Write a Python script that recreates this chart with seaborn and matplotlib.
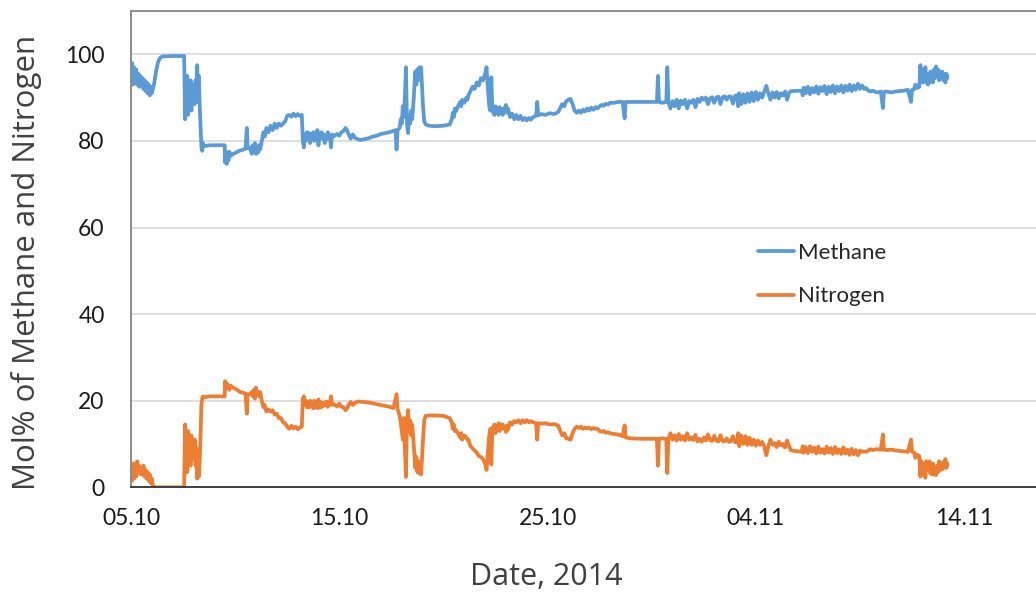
import numpy as np
import pandas as pd
import matplotlib
matplotlib.use("Agg")
import matplotlib.pyplot as plt
import matplotlib.dates as mdates
from matplotlib.lines import Line2D
import seaborn as sns

# Measurement time, days after 05.10.2014 00:00
day_offset = [
    0.00, 0.05, 0.10, 0.15, 0.20, 0.25, 0.30, 0.35, 0.40, 0.45, 0.50, 0.55, 0.60, 0.65, 0.70, 0.75,
    0.80, 0.85, 0.90, 0.95, 1.00, 1.05, 1.10, 1.15, 1.22, 1.30, 1.40, 1.50, 2.00, 2.55,
    2.60, 2.63, 2.66, 2.70, 2.74, 2.78, 2.82, 2.86, 2.90, 2.94, 2.98, 3.02, 3.06, 3.10, 3.14, 3.18,
    3.22, 3.26, 3.30, 3.34, 3.38, 3.42, 3.46, 3.50, 3.80, 4.20, 4.50, 4.52, 4.56, 4.60, 4.64, 4.68,
    4.72, 4.78, 4.90, 5.00, 5.10, 5.25, 5.40, 5.50, 5.56, 5.60, 5.70, 5.80, 5.85, 5.90, 5.95, 6.00,
    6.05, 6.10, 6.15, 6.20, 6.30, 6.36, 6.42, 6.50, 6.60, 6.70, 6.80, 6.90, 7.00, 7.10, 7.20, 7.30,
    7.40, 7.50, 7.60, 7.70, 7.80, 7.90, 8.00, 8.10, 8.20, 8.25, 8.30, 8.35, 8.40, 8.45, 8.50, 8.55,
    8.60, 8.65, 8.70, 8.75, 8.80, 8.85, 8.90, 8.95, 9.00, 9.05, 9.10, 9.15, 9.20, 9.25, 9.30, 9.35,
    9.40, 9.45, 9.50, 9.55, 9.60, 9.65, 9.70, 9.80, 9.90, 10.00, 10.10, 10.20, 10.30, 10.37, 10.45, 10.55,
    10.65, 10.75, 10.90, 11.00, 11.20, 11.40, 11.60, 11.80, 12.00, 12.20, 12.40, 12.60, 12.70, 12.75, 12.80, 12.90,
    12.95, 13.00, 13.05, 13.10, 13.15, 13.20, 13.25, 13.30, 13.35, 13.40, 13.45, 13.50, 13.55, 13.60, 13.65, 13.70,
    13.75, 13.80, 13.85, 13.90, 13.93, 13.98, 14.02, 14.08, 14.15, 14.30, 14.60, 15.00, 15.30, 15.40, 15.45, 15.50,
    15.55, 15.60, 15.70, 15.80, 15.85, 15.90, 16.00, 16.10, 16.15, 16.20, 16.30, 16.40, 16.50, 16.60, 16.70, 16.80,
    16.90, 17.00, 17.07, 17.12, 17.20, 17.25, 17.30, 17.35, 17.45, 17.50, 17.55, 17.60, 17.65, 17.70, 17.75, 17.80,
    17.85, 17.90, 17.95, 18.00, 18.05, 18.10, 18.20, 18.30, 18.40, 18.50, 18.60, 18.70, 18.80, 18.90, 19.00, 19.10,
    19.20, 19.30, 19.45, 19.50, 19.55, 19.70, 19.90, 20.10, 20.30, 20.50, 20.60, 20.70, 20.80, 20.90, 21.00, 21.10,
    21.20, 21.30, 21.40, 21.50, 21.60, 21.70, 21.80, 21.90, 22.00, 22.10, 22.20, 22.30, 22.40, 22.50, 22.60, 22.70,
    22.80, 22.90, 23.00, 23.20, 23.40, 23.60, 23.70, 23.75, 24.00, 24.50, 25.00, 25.25, 25.30, 25.35, 25.50, 25.70,
    25.75, 25.80, 25.90, 26.00, 26.10, 26.20, 26.30, 26.40, 26.50, 26.60, 26.70, 26.80, 26.90, 27.00, 27.10, 27.20,
    27.30, 27.40, 27.50, 27.60, 27.70, 27.80, 27.90, 28.00, 28.10, 28.20, 28.30, 28.40, 28.50, 28.60, 28.70, 28.80,
    28.90, 29.00, 29.10, 29.15, 29.20, 29.30, 29.40, 29.50, 29.60, 29.70, 29.80, 29.90, 30.00, 30.10, 30.20, 30.30,
    30.40, 30.50, 30.60, 30.70, 30.80, 30.90, 31.00, 31.10, 31.20, 31.30, 31.40, 31.50, 31.60, 31.70, 32.20, 32.25,
    32.30, 32.40, 32.50, 32.60, 32.70, 32.80, 32.90, 33.00, 33.10, 33.20, 33.30, 33.40, 33.50, 33.60, 33.70, 33.80,
    33.90, 34.00, 34.10, 34.20, 34.30, 34.40, 34.50, 34.60, 34.70, 34.80, 34.90, 35.00, 35.10, 35.20, 35.30, 35.40,
    35.50, 35.60, 35.80, 36.00, 36.10, 36.15, 36.30, 36.50, 36.70, 36.90, 37.10, 37.30, 37.45, 37.50, 37.60, 37.66,
    37.75, 37.85, 37.90, 37.94, 37.98, 38.02, 38.06, 38.10, 38.14, 38.18, 38.22, 38.26, 38.30, 38.34, 38.38, 38.42,
    38.46, 38.50, 38.55, 38.60, 38.65, 38.70, 38.75, 38.80, 38.85, 38.90, 38.95, 39.00, 39.05, 39.10, 39.15, 39.20,
]

# Mol% methane
methane = [
    95.0, 98.0, 93.0, 97.0, 94.0, 96.5, 93.0, 95.5, 92.5, 95.0, 93.0, 94.5, 92.0, 94.0, 91.5, 93.5,
    91.0, 93.0, 90.5, 92.5, 91.0, 92.0, 93.0, 94.5, 96.5, 98.2, 99.2, 99.5, 99.6, 99.6,
    85.0, 93.0, 88.0, 95.0, 86.0, 92.0, 89.0, 94.0, 87.0, 93.0, 89.0, 92.0, 88.5, 94.0, 90.0, 97.5,
    89.0, 95.0, 88.0, 83.0, 78.5, 77.7, 79.5, 78.8, 79.0, 79.0, 79.0, 75.0, 77.5, 74.7, 77.0, 75.5,
    77.5, 76.5, 77.0, 77.2, 77.5, 77.8, 78.0, 78.2, 83.0, 78.3, 78.5, 77.0, 79.0, 77.5, 79.5, 77.0,
    78.5, 77.3, 79.0, 78.0, 80.5, 82.0, 81.0, 83.0, 82.0, 83.5, 82.5, 84.0, 83.0, 84.0, 83.5, 84.0,
    84.5, 85.8, 86.0, 85.6, 86.3, 85.7, 86.2, 85.8, 86.0, 80.0, 78.5, 81.5, 80.0, 82.0, 80.5, 81.8,
    79.5, 81.5, 80.5, 82.0, 80.0, 81.5, 80.8, 82.5, 79.0, 81.7, 80.5, 82.0, 80.5, 81.5, 79.5, 81.2,
    80.4, 82.0, 80.8, 81.2, 78.5, 81.5, 81.0, 81.3, 81.6, 81.2, 82.0, 82.3, 83.0, 82.5, 81.5, 80.5,
    81.5, 80.7, 80.4, 80.2, 80.4, 80.6, 81.0, 81.2, 81.6, 81.8, 82.0, 82.3, 82.5, 78.0, 82.5, 83.0,
    85.0, 84.0, 88.0, 85.5, 90.0, 97.0, 84.0, 81.8, 86.0, 84.0, 87.0, 85.0, 88.0, 92.0, 96.0, 93.0,
    96.5, 94.0, 97.0, 95.0, 97.0, 92.0, 88.0, 84.5, 83.8, 83.5, 83.4, 83.5, 83.8, 85.0, 86.5, 85.5,
    87.5, 86.8, 88.0, 89.0, 88.0, 89.5, 88.8, 90.0, 89.5, 90.5, 91.5, 92.5, 92.0, 93.5, 92.8, 94.5,
    94.0, 95.5, 97.0, 93.0, 88.0, 87.0, 94.7, 87.0, 86.0, 88.0, 86.5, 87.5, 86.0, 87.8, 86.5, 87.0,
    86.0, 87.5, 87.0, 88.3, 86.5, 87.5, 85.5, 86.3, 85.0, 86.0, 85.0, 85.8, 84.8, 85.3, 84.7, 85.3,
    84.9, 85.5, 85.8, 89.0, 85.9, 86.2, 86.0, 86.4, 86.2, 86.6, 87.5, 88.5, 88.0, 89.2, 89.5, 89.7,
    88.5, 87.0, 86.5, 87.0, 86.5, 87.2, 86.8, 87.5, 87.0, 87.7, 87.2, 87.8, 87.5, 88.0, 88.3, 88.1,
    88.6, 88.4, 88.8, 88.8, 89.0, 89.0, 85.2, 89.0, 89.0, 89.0, 89.0, 89.0, 95.0, 89.0, 88.8, 89.0,
    97.0, 89.0, 87.5, 89.2, 88.0, 89.5, 87.5, 89.3, 88.5, 89.5, 87.5, 89.2, 88.8, 89.5, 87.8, 89.7,
    89.0, 90.0, 89.5, 90.0, 88.5, 89.8, 90.1, 88.8, 90.0, 90.2, 88.5, 90.1, 90.3, 89.5, 90.3, 90.2,
    88.6, 90.4, 90.5, 88.0, 91.0, 88.5, 90.8, 88.8, 91.0, 89.0, 91.2, 89.2, 91.3, 89.5, 91.0, 90.0,
    91.3, 92.7, 91.0, 89.5, 91.2, 90.0, 91.3, 89.8, 91.0, 90.5, 91.4, 89.5, 91.2, 91.5, 91.6, 90.5,
    92.3, 91.0, 92.5, 90.8, 92.2, 91.2, 92.6, 90.9, 92.4, 91.5, 92.7, 90.8, 92.5, 91.3, 92.8, 91.0,
    92.6, 91.5, 92.8, 91.2, 92.7, 91.6, 93.0, 91.5, 92.8, 91.8, 93.2, 92.0, 92.8, 92.0, 92.2, 91.6,
    91.4, 91.6, 91.2, 91.4, 87.6, 91.3, 91.4, 91.2, 91.4, 91.5, 91.6, 91.8, 89.0, 91.8, 92.0, 93.0,
    92.2, 92.5, 97.5, 94.0, 96.5, 93.5, 96.0, 94.5, 97.0, 93.5, 95.5, 93.0, 95.0, 93.5, 96.0, 94.0,
    95.5, 93.5, 96.5, 94.5, 97.2, 95.0, 96.5, 94.0, 96.0, 94.5, 96.0, 94.0, 95.5, 93.5, 95.5, 94.5,
]

# Mol% nitrogen
nitrogen = [
    4.0, 1.5, 5.5, 2.0, 4.5, 2.5, 6.0, 3.5, 5.0, 3.0, 4.5, 3.0, 5.0, 2.5, 4.0, 2.0,
    3.5, 1.5, 3.0, 1.0, 2.0, 0.5, 0.2, 0.0, 0.0, 0.0, 0.0, 0.0, 0.0, 0.0,
    14.5, 6.0, 11.0, 3.5, 13.0, 8.0, 10.0, 5.0, 12.0, 6.5, 10.5, 7.5, 11.0, 5.0, 9.0, 2.0,
    8.0, 2.5, 6.0, 12.0, 19.0, 20.5, 21.0, 20.8, 21.0, 21.0, 21.0, 24.5, 23.5, 24.0, 23.0, 23.5,
    22.5, 23.5, 23.0, 22.8, 22.5, 22.0, 21.8, 21.6, 17.0, 21.5, 21.5, 22.0, 21.0, 22.5, 20.5, 23.0,
    21.5, 22.0, 21.0, 22.0, 19.5, 18.5, 19.0, 17.5, 18.0, 17.5, 17.8, 16.8, 17.0, 16.0, 16.0, 15.0,
    14.8, 14.0, 13.5, 14.2, 13.6, 14.0, 13.4, 13.8, 14.0, 20.5, 21.0, 19.0, 20.0, 18.5, 19.8, 18.5,
    20.0, 18.8, 19.5, 18.2, 20.0, 18.6, 19.2, 18.3, 20.3, 18.4, 19.7, 18.5, 19.5, 18.8, 19.6, 19.0,
    19.8, 18.6, 19.5, 19.2, 21.0, 19.0, 19.3, 19.0, 18.7, 19.3, 18.6, 18.5, 17.8, 18.2, 19.0, 19.7,
    19.0, 19.5, 19.8, 19.8, 19.7, 19.6, 19.4, 19.2, 19.0, 18.8, 18.6, 18.3, 20.5, 21.5, 18.0, 16.5,
    15.0, 13.0, 11.0, 16.0, 9.0, 2.4, 15.0, 17.8, 13.0, 15.5, 12.0, 14.5, 11.5, 8.0, 4.5, 7.0,
    3.5, 6.0, 3.2, 4.5, 3.0, 7.5, 11.0, 15.5, 16.5, 16.6, 16.6, 16.5, 16.0, 15.0, 13.5, 14.5,
    13.0, 13.2, 12.5, 11.5, 12.5, 11.0, 12.0, 11.5, 11.0, 11.0, 9.5, 9.0, 8.5, 8.0, 7.2, 7.0,
    6.5, 5.5, 4.0, 7.0, 12.0, 13.5, 5.3, 13.5, 14.5, 12.5, 14.0, 13.5, 14.8, 13.0, 14.5, 13.8,
    14.5, 13.5, 14.0, 12.8, 14.3, 13.3, 15.0, 14.5, 15.3, 15.0, 15.5, 14.8, 15.5, 15.0, 15.5, 15.0,
    15.3, 15.0, 14.8, 11.0, 14.8, 14.7, 14.8, 14.5, 14.6, 14.3, 13.2, 12.0, 12.5, 11.3, 11.2, 11.0,
    12.5, 13.5, 14.0, 13.7, 14.0, 13.5, 13.8, 13.6, 13.8, 13.4, 13.7, 13.5, 13.5, 13.0, 12.8, 13.0,
    12.6, 12.7, 12.5, 12.3, 12.2, 11.8, 14.3, 11.5, 11.3, 11.2, 11.2, 11.2, 5.0, 11.2, 11.3, 11.2,
    3.3, 11.2, 12.5, 11.0, 12.0, 10.8, 12.3, 11.0, 11.8, 10.8, 12.5, 11.0, 11.5, 10.9, 12.1, 10.6,
    11.2, 10.5, 11.5, 10.8, 12.2, 10.9, 10.7, 11.9, 10.8, 10.6, 12.0, 10.7, 10.6, 11.3, 10.5, 10.6,
    11.8, 10.4, 10.4, 12.5, 9.5, 12.0, 10.0, 11.8, 9.8, 11.5, 9.8, 11.0, 9.6, 10.8, 9.8, 10.5,
    9.5, 7.4, 9.5, 11.0, 9.8, 10.2, 9.3, 10.5, 9.7, 10.0, 9.2, 10.8, 9.4, 8.5, 8.2, 9.5,
    8.0, 9.3, 7.9, 9.5, 8.2, 9.2, 7.8, 9.4, 8.0, 8.8, 7.8, 9.4, 8.0, 9.1, 7.7, 9.3,
    7.9, 8.8, 7.7, 9.2, 7.8, 8.7, 7.5, 8.9, 7.6, 8.6, 7.4, 8.5, 8.2, 8.3, 8.2, 8.5,
    8.8, 8.6, 8.8, 8.7, 12.2, 8.7, 8.6, 8.7, 8.5, 8.4, 8.3, 8.2, 11.0, 8.2, 8.0, 6.8,
    7.5, 7.2, 2.5, 6.0, 3.0, 5.5, 3.5, 5.0, 2.2, 6.0, 4.0, 5.5, 4.5, 6.0, 3.2, 5.0,
    3.0, 5.5, 3.0, 4.5, 2.8, 5.0, 3.5, 6.0, 4.0, 5.5, 4.2, 5.8, 4.5, 6.5, 4.5, 5.5,
]

series_names = ["Methane", "Nitrogen"]
series_colors = ["#5B9BD5", "#ED7D31"]
tick_dates = ["2014-10-05", "2014-10-15", "2014-10-25", "2014-11-04", "2014-11-14"]

start = pd.Timestamp("2014-10-05")
times = start + pd.to_timedelta(day_offset, unit="D")
df = pd.concat([
    pd.DataFrame({"time": times, "value": methane, "gas": series_names[0]}),
    pd.DataFrame({"time": times, "value": nitrogen, "gas": series_names[1]}),
], ignore_index=True)

sns.set_theme(style="white")
plt.rcParams["font.family"] = ["Lato", "DejaVu Sans"]

W, H = 1036, 595
fig = plt.figure(figsize=(W / 100, H / 100), dpi=100)
ax_left, ax_bottom, ax_top = 131, 487.3, 11
ax = fig.add_axes([ax_left / W, (H - ax_bottom) / H, (W - ax_left) / W + 0.002, (ax_bottom - ax_top) / H])
ax_w = W + 2 - ax_left
ax_h = ax_bottom - ax_top

sns.lineplot(data=df, x="time", y="value", hue="gas", hue_order=series_names,
             palette=series_colors, estimator=None, sort=False, linewidth=2.7,
             legend=False, ax=ax)

ax.set_ylim(0, 110)
ax.set_yticks([0, 20, 40, 60, 80, 100])
ax.set_xlim(start, start + pd.Timedelta(days=43.55))
ax.set_xticks(pd.to_datetime(tick_dates))
ax.xaxis.set_major_formatter(mdates.DateFormatter("%d.%m"))

ax.grid(axis="y", color="#d9d9d9", linewidth=1.2)
ax.grid(axis="x", visible=False)
ax.spines["right"].set_visible(False)
ax.spines["top"].set_color("#8c8c8c")
ax.spines["top"].set_linewidth(1.4)
ax.spines["left"].set_color("#8c8c8c")
ax.spines["left"].set_linewidth(1.4)
ax.spines["bottom"].set_color("#404040")
ax.spines["bottom"].set_linewidth(1.4)

ax.tick_params(axis="y", length=0, pad=19, labelsize=16.5, labelcolor="#1a1a1a")
ax.tick_params(axis="x", length=0, pad=15, labelsize=16.5, labelcolor="#1a1a1a")

label_font = ["Open Sans", "DejaVu Sans"]
ax.set_xlabel("Date, 2014", fontsize=22, family=label_font, color="#404040")
ax.set_ylabel("Mol% of Methane and Nitrogen", fontsize=22.5, family=label_font, color="#404040")
ax.xaxis.set_label_coords((546 - ax_left) / ax_w, -(577 - ax_bottom) / ax_h)
ax.yaxis.set_label_coords(-(131 - 27) / ax_w, (ax_bottom - 262) / ax_h)
ax.xaxis.label.set_va("center")
ax.yaxis.label.set_va("center")

handles = [Line2D([0], [0], color=c, linewidth=2.7) for c in series_colors]
ax.legend(handles, series_names, loc="upper left",
          bbox_to_anchor=((738 - ax_left) / ax_w, (ax_bottom - 223) / ax_h),
          frameon=False, fontsize=16, handlelength=1.6, handletextpad=0.2, labelspacing=1.05)

fig.savefig("out.png", dpi=100)
